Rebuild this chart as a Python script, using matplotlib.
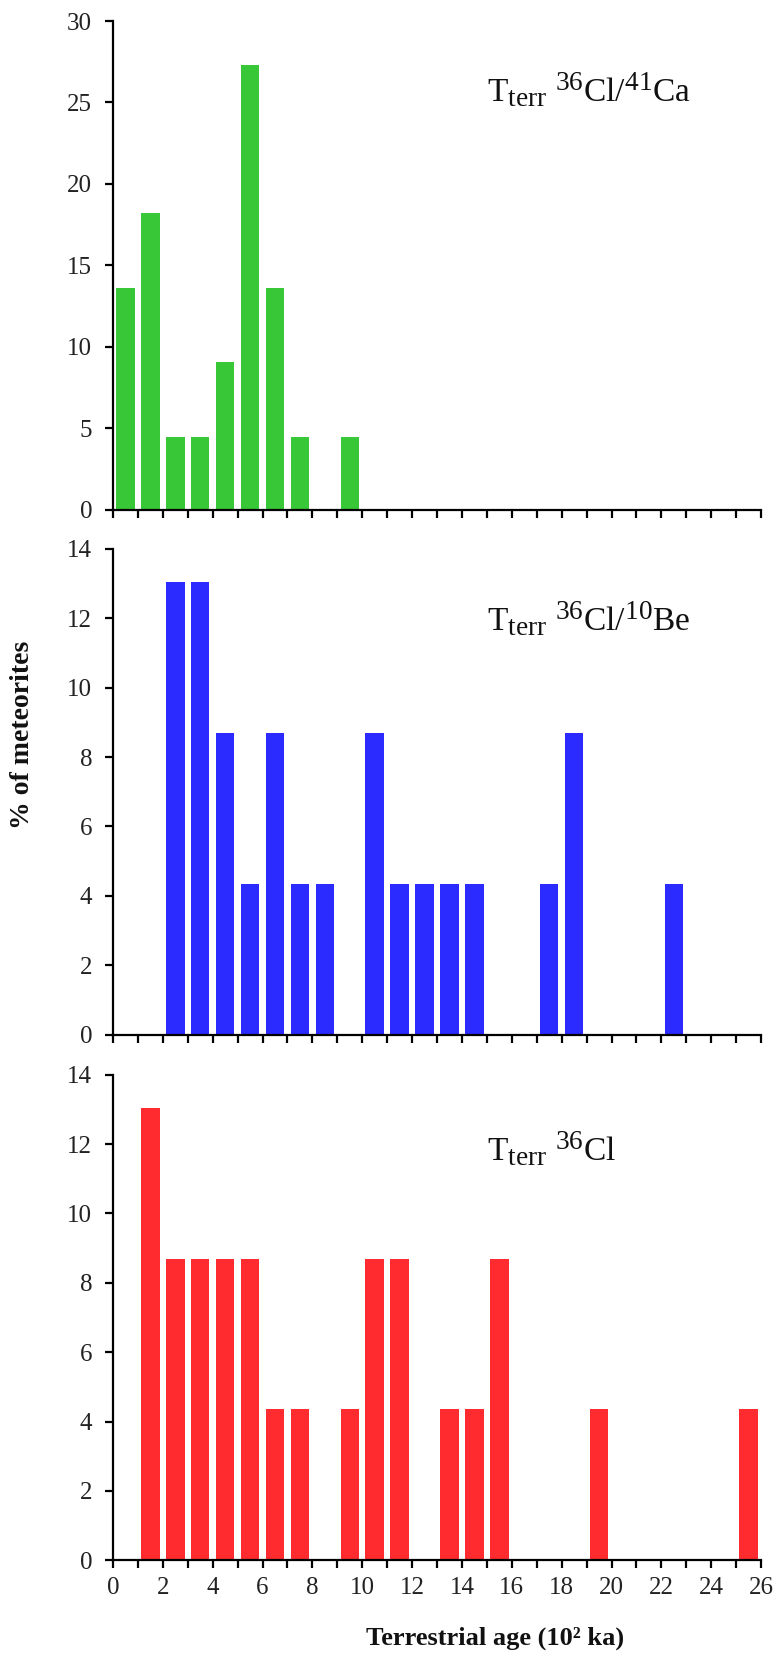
#!/usr/bin/env python
# -*- coding: utf-8 -*-

import numpy as np
import matplotlib
matplotlib.use('Agg')
import matplotlib.pyplot as plt
import matplotlib._mathtext as mathtext_internals

# Percentage of meteorites per 10^2 ka age bin (bin start, in 10^2 ka)
ca_bins = [0, 1, 2, 3, 4, 5, 6, 7, 9]
ca_pct = [13.6, 18.2, 4.5, 4.5, 9.1, 27.3, 13.6, 4.5, 4.5]

be_bins = [2, 3, 4, 5, 6, 7, 8, 10, 11, 12, 13, 14, 17, 18, 22]
be_pct = [13.04, 13.04, 8.7, 4.35, 8.7, 4.35, 4.35, 8.7, 4.35, 4.35, 4.35, 4.35, 4.35, 8.7, 4.35]

cl_bins = [1, 2, 3, 4, 5, 6, 7, 9, 10, 11, 13, 14, 15, 19, 25]
cl_pct = [13.04, 8.7, 8.7, 8.7, 8.7, 4.35, 4.35, 4.35, 8.7, 8.7, 4.35, 4.35, 8.7, 4.35, 4.35]

panel_labels = [r'T$_{\mathrm{terr}}$ $^{36}$Cl/$^{41}$Ca',
                r'T$_{\mathrm{terr}}$ $^{36}$Cl/$^{10}$Be',
                r'T$_{\mathrm{terr}}$ $^{36}$Cl']
x_ticks = np.arange(0, 27, 1)

plt.rcParams['font.family'] = ['Liberation Serif', 'DejaVu Serif']
plt.rcParams['mathtext.fontset'] = 'custom'
plt.rcParams['mathtext.rm'] = 'Liberation Serif'
plt.rcParams['mathtext.it'] = 'Liberation Serif:italic'
plt.rcParams['mathtext.bf'] = 'Liberation Serif:bold'
# super/subscripts in the original are only slightly smaller than the main text
if hasattr(mathtext_internals, 'SHRINK_FACTOR'):
    mathtext_internals.SHRINK_FACTOR = 0.82


def style_axis(ax, ymax, ystep, show_xlabels=False):
    """
    Only left and bottom spines, thick black, outward ticks
    """
    for side in ['top', 'right']:
        ax.spines[side].set_visible(False)
    for side in ['left', 'bottom']:
        ax.spines[side].set_linewidth(1.6)
    ax.set_xlim(0, 26)
    ax.set_ylim(0, ymax)
    ax.set_yticks(np.arange(0, ymax + 0.1, ystep))
    ax.set_xticks(x_ticks)
    if show_xlabels:
        ax.set_xticklabels([str(t) if t % 2 == 0 else '' for t in x_ticks])
    else:
        ax.set_xticklabels([])
    ax.tick_params(axis='both', direction='out', length=6, width=1.6,
                   labelsize=18, colors='black', labelcolor='#222222')
    ax.tick_params(axis='y', pad=9)
    ax.tick_params(axis='x', pad=6)


def plot_panel(ax, bins, pct, color, label, label_y, ymax, ystep, show_xlabels=False):
    """
    """
    centers = np.array(bins) + 0.5
    ax.bar(centers, pct, width=0.74, color=color, zorder=2)
    style_axis(ax, ymax, ystep, show_xlabels)
    ax.text(15.0, label_y, label, fontsize=24, ha='left', va='baseline', color='#111111')


def main():
    fig = plt.figure(figsize=(7.77, 16.55), dpi=100)
    left = 0.1454
    width = 0.9795 - left

    ax1 = fig.add_axes([left, 0.6919, width, 0.2954])
    ax2 = fig.add_axes([left, 0.3749, width, 0.2934])
    ax3 = fig.add_axes([left, 0.0572, width, 0.2934])

    plot_panel(ax1, ca_bins, ca_pct, '#37c737', panel_labels[0], 25.0, 30, 5)
    plot_panel(ax2, be_bins, be_pct, '#2b2bff', panel_labels[1], 11.64, 14, 2)
    plot_panel(ax3, cl_bins, cl_pct, '#ff2b2e', panel_labels[2], 11.52, 14, 2, show_xlabels=True)

    fig.text(0.0296, 0.556, '% of meteorites', rotation=90, fontsize=20,
             fontweight='bold', ha='center', va='center', color='#111111')
    fig.text(0.6375, 0.006, 'Terrestrial age (10\u00b2 ka)', fontsize=19,
             fontweight='bold', ha='center', va='baseline', color='#111111')

    fig.savefig('out.png', dpi=100)


if __name__ == "__main__":
    main()
